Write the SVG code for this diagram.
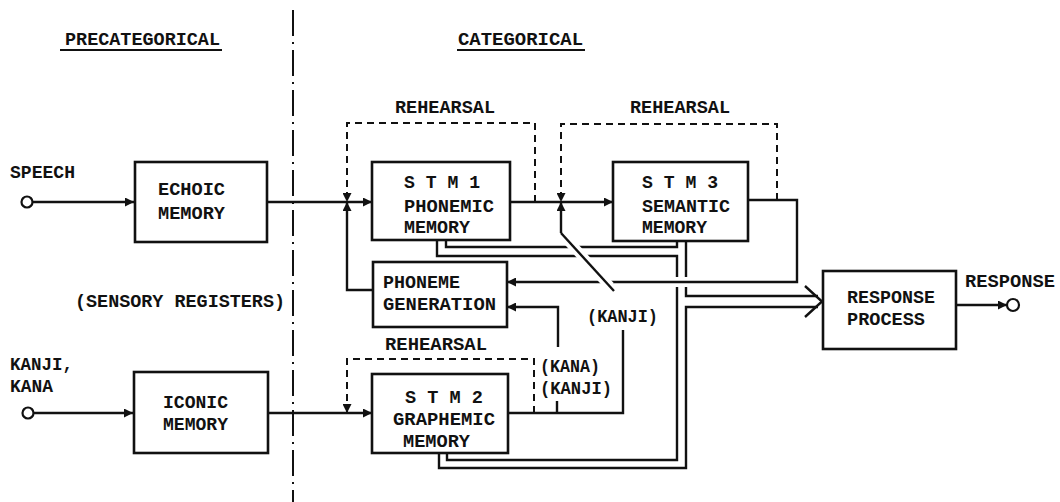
<svg xmlns="http://www.w3.org/2000/svg" width="1060" height="502" viewBox="0 0 1060 502">
<style>
text{font-family:"Liberation Mono","DejaVu Sans Mono",monospace;font-weight:bold;font-size:18px;fill:#111}
.box{fill:#fff;stroke:#111;stroke-width:2.6}
.ln{fill:none;stroke:#111;stroke-width:2.4}
.dash{fill:none;stroke:#111;stroke-width:2;stroke-dasharray:7 5}
.halo{fill:none;stroke:#fff;stroke-width:10}
.pin{fill:#fff;stroke:#111;stroke-width:2.2}
</style>
<defs>
<marker id="a" viewBox="0 0 10 10" refX="10" refY="5" markerWidth="10" markerHeight="9" markerUnits="userSpaceOnUse" orient="auto"><path d="M0,0L10,5L0,10z" fill="#111"/></marker>
</defs>
<rect width="1060" height="502" fill="#fff"/>

<g id="headings">
<text x="65" y="45" textLength="155" lengthAdjust="spacingAndGlyphs">PRECATEGORICAL</text>
<line x1="60" y1="50" x2="222" y2="50" stroke="#111" stroke-width="2"/>
<text x="458" y="45" textLength="125" lengthAdjust="spacingAndGlyphs">CATEGORICAL</text>
<line x1="457" y1="50" x2="585" y2="50" stroke="#111" stroke-width="2"/>
<text x="75" y="307" textLength="210" lengthAdjust="spacingAndGlyphs">(SENSORY REGISTERS)</text>
<line x1="293" y1="10" x2="293" y2="502" stroke="#111" stroke-width="2" stroke-dasharray="26 6 2 6"/>
</g>

<g id="connectors">
<path class="ln" d="M33,202H134" marker-end="url(#a)"/>
<path class="ln" d="M267,202H372" marker-end="url(#a)"/>
<path class="dash" d="M535,202V123H347V202" marker-end="url(#a)"/>
<path class="ln" d="M373,290H347V202" marker-end="url(#a)"/>
<path class="ln" d="M510,202H613" marker-end="url(#a)"/>
<path class="dash" d="M777,200V124H561V202" marker-end="url(#a)"/>
<path class="ln" d="M561,233V202" marker-end="url(#a)"/>
<path class="ln" d="M623,330V413H508"/>
<path class="ln" d="M557,401V413"/>
<path class="ln" d="M558,347V307H507" marker-end="url(#a)"/>
<path class="dash" d="M534,413V359H347V413" marker-end="url(#a)"/>
<path class="ln" d="M34,413H133" marker-end="url(#a)"/>
<path class="ln" d="M268,413H372" marker-end="url(#a)"/>
<path class="ln" d="M437,241V256H677V460H447V453"/>
<path class="ln" d="M446,241V247H677V241"/>
<path class="ln" d="M686,241V296H818"/>
<path class="ln" d="M818,307H686V468H439V453"/>
<path class="ln" d="M805,286L822,301.5L805,317"/>
<path class="halo" d="M668,282H696"/>
<path class="ln" d="M748,200H797V282H507" marker-end="url(#a)"/>
<path class="halo" d="M566,238.5L610,286.5"/>
<path class="ln" d="M561,233L614,291"/>
<path class="ln" d="M956,305H1007" marker-end="url(#a)"/>
</g>

<g id="speech">
<text x="10" y="178" textLength="65" lengthAdjust="spacingAndGlyphs">SPEECH</text>
<circle class="pin" cx="27" cy="202" r="5.5"/>
</g>
<g id="kanji-kana">
<text x="10" y="370" textLength="63" lengthAdjust="spacingAndGlyphs">KANJI,</text>
<text x="10" y="392" textLength="43" lengthAdjust="spacingAndGlyphs">KANA</text>
<circle class="pin" cx="28" cy="413" r="5.5"/>
</g>

<g id="echoic">
<rect class="box" x="135" y="162" width="132" height="80"/>
<text x="158" y="195" textLength="67" lengthAdjust="spacingAndGlyphs">ECHOIC</text>
<text x="158" y="219" textLength="67" lengthAdjust="spacingAndGlyphs">MEMORY</text>
</g>

<g id="iconic">
<rect class="box" x="134" y="372" width="134" height="81"/>
<text x="163" y="408" textLength="65" lengthAdjust="spacingAndGlyphs">ICONIC</text>
<text x="163" y="430" textLength="65" lengthAdjust="spacingAndGlyphs">MEMORY</text>
</g>

<g id="stm1">
<text x="395" y="113" textLength="100" lengthAdjust="spacingAndGlyphs">REHEARSAL</text>
<rect class="box" x="372" y="162" width="138" height="78"/>
<text x="404" y="188" textLength="76" lengthAdjust="spacingAndGlyphs">S T M 1</text>
<text x="404" y="212" textLength="90" lengthAdjust="spacingAndGlyphs">PHONEMIC</text>
<text x="404" y="233" textLength="66" lengthAdjust="spacingAndGlyphs">MEMORY</text>
</g>

<g id="stm3">
<text x="630" y="113" textLength="100" lengthAdjust="spacingAndGlyphs">REHEARSAL</text>
<rect class="box" x="613" y="162" width="135" height="79"/>
<text x="642" y="188" textLength="76" lengthAdjust="spacingAndGlyphs">S T M 3</text>
<text x="642" y="212" textLength="88" lengthAdjust="spacingAndGlyphs">SEMANTIC</text>
<text x="642" y="233" textLength="65" lengthAdjust="spacingAndGlyphs">MEMORY</text>
</g>

<g id="phoneme-generation">
<rect class="box" x="373" y="262" width="134" height="65"/>
<text x="383" y="288" textLength="77" lengthAdjust="spacingAndGlyphs">PHONEME</text>
<text x="383" y="310" textLength="113" lengthAdjust="spacingAndGlyphs">GENERATION</text>
</g>

<g id="kanji-label">
<text x="587" y="322" textLength="71" lengthAdjust="spacingAndGlyphs">(KANJI)</text>
</g>

<g id="stm2">
<text x="385" y="350" textLength="102" lengthAdjust="spacingAndGlyphs">REHEARSAL</text>
<rect class="box" x="372" y="374" width="136" height="79"/>
<text x="405" y="403" textLength="78" lengthAdjust="spacingAndGlyphs">S T M 2</text>
<text x="393" y="425" textLength="102" lengthAdjust="spacingAndGlyphs">GRAPHEMIC</text>
<text x="403" y="447" textLength="67" lengthAdjust="spacingAndGlyphs">MEMORY</text>
<text x="540" y="372" textLength="60" lengthAdjust="spacingAndGlyphs">(KANA)</text>
<text x="540" y="394" textLength="72" lengthAdjust="spacingAndGlyphs">(KANJI)</text>
</g>

<g id="response-process">
<rect class="box" x="823" y="271" width="133" height="78"/>
<text x="847" y="303" textLength="88" lengthAdjust="spacingAndGlyphs">RESPONSE</text>
<text x="847" y="325" textLength="78" lengthAdjust="spacingAndGlyphs">PROCESS</text>
</g>

<g id="response">
<text x="965" y="287" textLength="90" lengthAdjust="spacingAndGlyphs">RESPONSE</text>
<circle class="pin" cx="1013" cy="305" r="6"/>
</g>
</svg>
